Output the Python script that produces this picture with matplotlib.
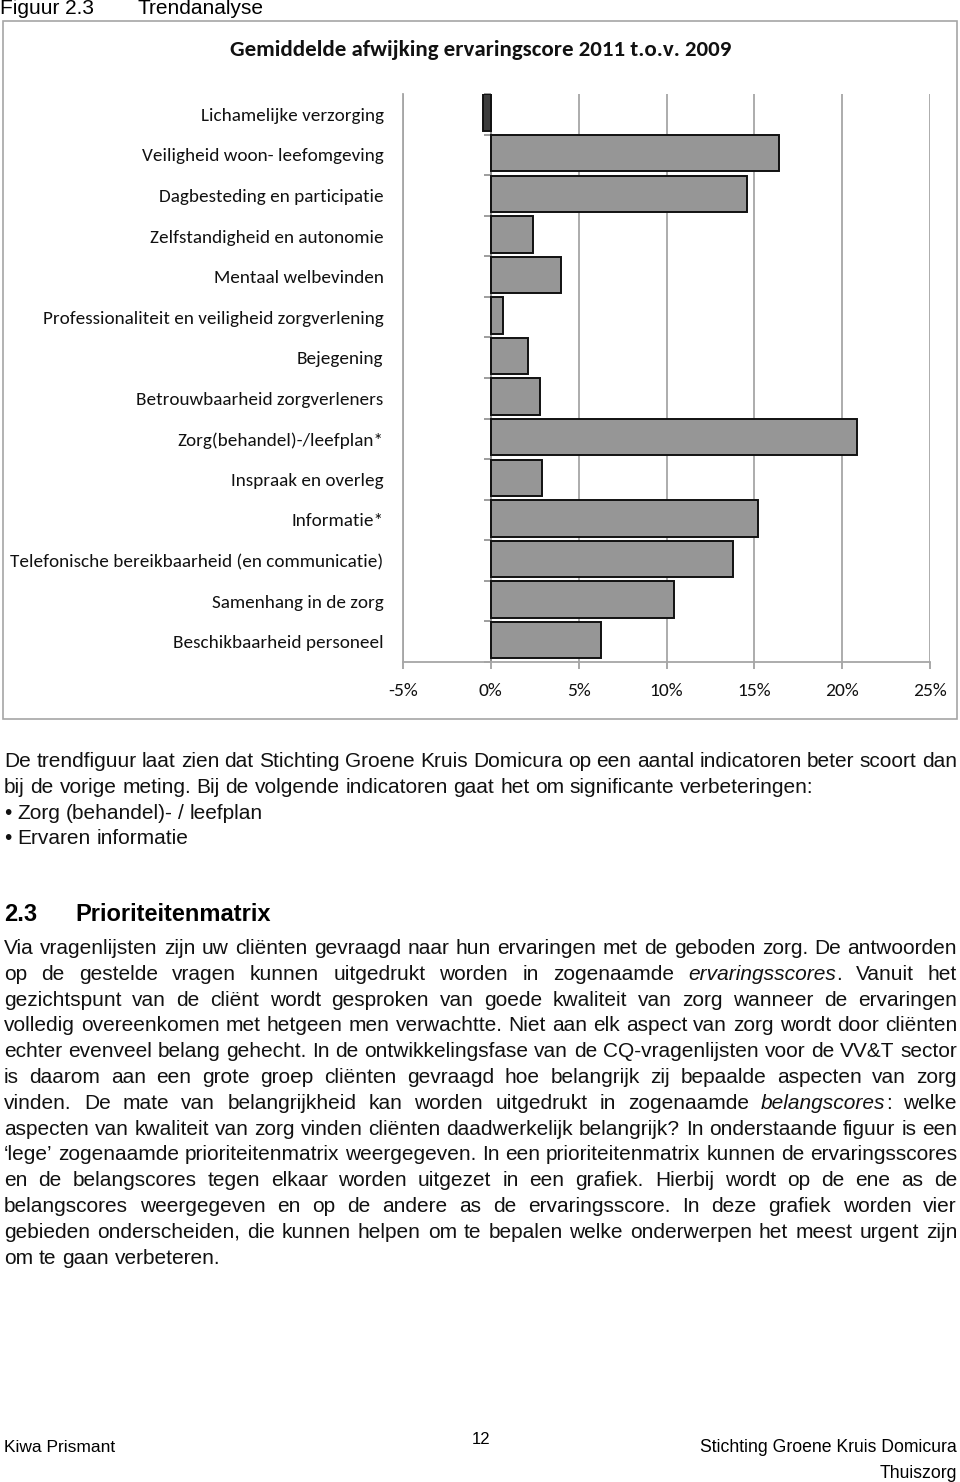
import matplotlib
matplotlib.use("Agg")
import matplotlib.pyplot as plt
import numpy as np
from matplotlib.patches import Rectangle
from matplotlib import font_manager as fm

# ---------------- data ----------------
categories = [
    "Lichamelijke verzorging",
    "Veiligheid woon- leefomgeving",
    "Dagbesteding en participatie",
    "Zelfstandigheid en autonomie",
    "Mentaal welbevinden",
    "Professionaliteit en veiligheid zorgverlening",
    "Bejegening",
    "Betrouwbaarheid zorgverleners",
    "Zorg(behandel)-/leefplan*",
    "Inspraak en overleg",
    "Informatie*",
    "Telefonische bereikbaarheid (en communicatie)",
    "Samenhang in de zorg",
    "Beschikbaarheid personeel",
]
deviation_pct = [-0.45, 16.4, 14.6, 2.4, 4.0, 0.7, 2.1, 2.8,
                 20.85, 2.9, 15.2, 13.8, 10.4, 6.25]
x_ticks = [-5, 0, 5, 10, 15, 20, 25]
chart_title = "Gemiddelde afwijking ervaringscore 2011 t.o.v. 2009"

header_left = "Figuur 2.3"
header_right = "Trendanalyse"

para1_lines = [
    ("De trendfiguur laat zien dat Stichting Groene Kruis Domicura op een aantal indicatoren beter scoort dan", True),
    ("bij de vorige meting. Bij de volgende indicatoren gaat het om significante verbeteringen:", False),
    ("\u2022 Zorg (behandel)- / leefplan", False),
    ("\u2022 Ervaren informatie", False),
]
heading_num = "2.3"
heading_text = "Prioriteitenmatrix"
para2_lines = [
    ("Via vragenlijsten zijn uw cli\u00ebnten gevraagd naar hun ervaringen met de geboden zorg. De antwoorden", True),
    ("op de gestelde vragen kunnen uitgedrukt worden in zogenaamde _ervaringsscores_. Vanuit het", True),
    ("gezichtspunt van de cli\u00ebnt wordt gesproken van goede kwaliteit van zorg wanneer de ervaringen", True),
    ("volledig overeenkomen met hetgeen men verwachtte. Niet aan elk aspect van zorg wordt door cli\u00ebnten", True),
    ("echter evenveel belang gehecht. In de ontwikkelingsfase van de CQ-vragenlijsten voor de VV&T sector", True),
    ("is daarom aan een grote groep cli\u00ebnten gevraagd hoe belangrijk zij bepaalde aspecten van zorg", True),
    ("vinden. De mate van belangrijkheid kan worden uitgedrukt in zogenaamde _belangscores_: welke", True),
    ("aspecten van kwaliteit van zorg vinden cli\u00ebnten daadwerkelijk belangrijk? In onderstaande figuur is een", True),
    ("\u2018lege\u2019 zogenaamde prioriteitenmatrix weergegeven. In een prioriteitenmatrix kunnen de ervaringsscores", True),
    ("en de belangscores tegen elkaar worden uitgezet in een grafiek. Hierbij wordt op de ene as de", True),
    ("belangscores weergegeven en op de andere as de ervaringsscore. In deze grafiek worden vier", True),
    ("gebieden onderscheiden, die kunnen helpen om te bepalen welke onderwerpen het meest urgent zijn", True),
    ("om te gaan verbeteren.", False),
]
footer_left = "Kiwa Prismant"
footer_page = "12"
footer_right = ["Stichting Groene Kruis Domicura", "Thuiszorg"]

# ---------------- fonts ----------------
BODY_FAMILY = ["Liberation Sans", "DejaVu Sans"]
FP_REG = fm.FontProperties(family=BODY_FAMILY)
FP_IT = fm.FontProperties(family=BODY_FAMILY, style="italic")
FP_BOLD = fm.FontProperties(family=BODY_FAMILY, weight="bold")
CHART_FONT = ["Carlito", "Lato", "DejaVu Sans"]

# ---------------- layout ----------------
W, H = 960, 1482
fig = plt.figure(figsize=(W / 100, H / 100), dpi=100)
fig.patch.set_facecolor("white")
renderer = fig.canvas.get_renderer()


def fx(px):
    return px / W


def fy(py):
    return 1 - py / H


def ftext(xp, yp, s, fp, size, **kw):
    p = fp.copy()
    p.set_size(size)
    return fig.text(fx(xp), fy(yp), s, fontproperties=p, **kw)


def text_width(s, fp, size):
    t = ftext(0, 0, s, fp, size)
    w = t.get_window_extent(renderer).width
    t.remove()
    return w


# chart border
fig.add_artist(Rectangle((fx(2.5), fy(719.5)), fx(954.5), (719.5 - 21) / H,
                         transform=fig.transFigure, fill=False, edgecolor="#a6a6a6", lw=1.2))

# axes
ax_left, ax_right, ax_top, ax_bot = 403, 930, 94, 662
ax = fig.add_axes([fx(ax_left), fy(ax_bot), (ax_right - ax_left) / W, (ax_bot - ax_top) / H])
n = len(categories)
idx = np.arange(n)
colors = ["#3d3d3d" if v < 0 else "#969696" for v in deviation_pct]
ax.barh(idx - 0.04, deviation_pct, height=0.9, color=colors, edgecolor="#111111", linewidth=1.4, zorder=3)
ax.set_xlim(x_ticks[0], x_ticks[-1])
ax.set_ylim(n - 0.5, -0.5)
ax.set_xticks(x_ticks)
ax.set_xticklabels([f"{t}%" for t in x_ticks], fontsize=14, family=CHART_FONT, color="#111111")
ax.tick_params(axis="x", length=5, color="#9a9a9a", width=1.2, pad=10)
ax.set_yticks(idx)
ax.set_yticklabels(categories, fontsize=13.8, family=CHART_FONT, color="#111111")
ax.tick_params(axis="y", length=0, pad=14)
ax.grid(axis="x", color="#a6a6a6", lw=1.3, zorder=0)
for s in ["top", "right"]:
    ax.spines[s].set_visible(False)
for s in ["left", "bottom"]:
    ax.spines[s].set_color("#a6a6a6")
    ax.spines[s].set_linewidth(1.3)
# category axis at 0 with boundary ticks
ax.axvline(0, color="#8c8c8c", lw=1.3, zorder=2)
bounds = np.arange(n + 1) - 0.5
ax.plot(np.zeros(n + 1), bounds, linestyle="none", marker=0, markersize=5,
        markeredgecolor="#8c8c8c", markeredgewidth=1.2, clip_on=False, zorder=2)

fig.text(fx(481), fy(50), chart_title, ha="center", va="center", fontsize=16.5,
         weight="bold", family=CHART_FONT, color="#111111")

# header (partly cut at the top of the page, as in the scan)
ftext(0, 14, header_left, FP_REG, 15, ha="left", va="baseline")
ftext(137, 14, header_right, FP_REG, 15, ha="left", va="baseline")

# justified body text
BODY_SIZE = 15.0
L, R = 4, 957


def draw_line(line, baseline_px, justify):
    words = line.split(" ")
    parsed = []
    for w in words:
        parts = w.split("_")
        segs = []
        for k, p in enumerate(parts):
            if p:
                segs.append((p, FP_IT if k % 2 == 1 else FP_REG))
        widths = [text_width(p, fp, BODY_SIZE) for p, fp in segs]
        parsed.append((segs, widths, sum(widths)))
    space = text_width("x x", FP_REG, BODY_SIZE) - text_width("xx", FP_REG, BODY_SIZE)
    total = sum(p[2] for p in parsed)
    if justify and len(parsed) > 1:
        gap = max((R - L - total) / (len(parsed) - 1), space * 0.6)
    else:
        gap = space
    x = L
    for segs, widths, wsum in parsed:
        xx = x
        for (p, fp), wd in zip(segs, widths):
            ftext(xx, baseline_px, p, fp, BODY_SIZE, ha="left", va="baseline", color="#111111")
            xx += wd
        x += wsum + gap


for i, (line, just) in enumerate(para1_lines):
    draw_line(line, 767 + i * 25.8, just)

ftext(4, 921, heading_num, FP_BOLD, 17, ha="left", va="baseline")
ftext(75, 921, heading_text, FP_BOLD, 17, ha="left", va="baseline")

for i, (line, just) in enumerate(para2_lines):
    draw_line(line, 954 + i * 25.8, just)

# footer
ftext(4, 1452, footer_left, FP_REG, 12.5, ha="left", va="baseline")
ftext(481, 1444, footer_page, FP_REG, 12, ha="center", va="baseline")
ftext(957, 1452, footer_right[0], FP_REG, 12.7, ha="right", va="baseline")
ftext(957, 1478, footer_right[1], FP_REG, 12.7, ha="right", va="baseline")

fig.savefig("out.png", dpi=100, facecolor="white")
